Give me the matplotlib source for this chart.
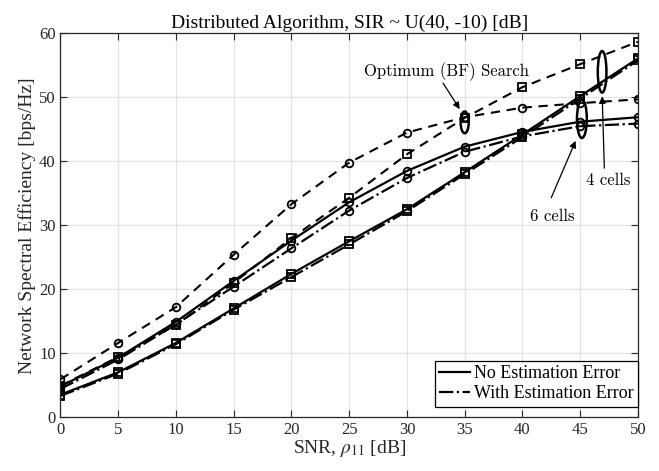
import matplotlib
matplotlib.use('Agg')
import matplotlib.pyplot as plt
from matplotlib.patches import Ellipse
from matplotlib.lines import Line2D

plt.rcParams['font.family'] = ['Liberation Serif', 'DejaVu Serif']
plt.rcParams['mathtext.fontset'] = 'stix'

snr = [0, 5, 10, 15, 20, 25, 30, 35, 40, 45, 50]

# optimum (brute-force) search
opt_6cells = [5.9, 11.6, 17.2, 25.4, 33.3, 39.8, 44.5, 46.9, 48.4, 49.1, 49.7]
opt_4cells = [4.9, 9.4, 14.4, 21.0, 28.0, 34.3, 41.1, 46.8, 51.6, 55.2, 58.7]

# distributed algorithm
noerr_6cells = [4.8, 9.3, 14.9, 21.3, 27.6, 33.6, 38.5, 42.3, 44.6, 46.2, 46.9]
err_6cells = [4.4, 9.0, 14.5, 20.4, 26.4, 32.3, 37.4, 41.5, 43.9, 45.5, 45.9]
noerr_4cells = [3.5, 7.0, 11.6, 17.0, 22.4, 27.5, 32.5, 38.3, 44.2, 50.2, 56.1]
err_4cells = [3.3, 6.8, 11.4, 16.8, 21.9, 27.0, 32.2, 38.0, 43.8, 49.8, 55.8]

fig = plt.figure(figsize=(6.59, 4.71), dpi=100)
ax = fig.add_axes([0.0918, 0.1146, 0.8762, 0.8143])

mk = dict(markersize=5.5, markerfacecolor='none', markeredgecolor='k', markeredgewidth=1.3)
dash = (0, (4.5, 3.2))
ax.plot(snr, opt_6cells, color='k', lw=1.5, ls=dash, marker='o', **mk)
ax.plot(snr, opt_4cells, color='k', lw=1.5, ls=dash, marker='s', **mk)
ax.plot(snr, noerr_6cells, color='k', lw=1.6, ls='-', marker='o', **mk)
ax.plot(snr, err_6cells, color='k', lw=1.6, ls='-.', marker='o', **mk)
ax.plot(snr, noerr_4cells, color='k', lw=1.6, ls='-', marker='s', **mk)
ax.plot(snr, err_4cells, color='k', lw=1.6, ls='-.', marker='s', **mk)

# ellipses marking the groups
for cx, cy, w, h in [(35.0, 46.1, 0.7, 3.4), (45.15, 46.65, 0.85, 6.0), (46.9, 54.0, 0.75, 6.5)]:
    ax.add_patch(Ellipse((cx, cy), w, h, fill=False, ec='k', lw=1.8))

cm = dict(family='cmr10', fontsize=12, ha='center', va='center')
arr = dict(arrowstyle='-|>', color='k', lw=0.9, mutation_scale=10)
ax.text(33.4, 54.0, 'Optimum (BF) Search', **cm)
ax.annotate('', xy=(34.7, 47.8), xytext=(33.0, 52.6), arrowprops=arr)
ax.text(42.6, 31.4, '6 cells', **cm)
ax.annotate('', xy=(44.7, 43.6), xytext=(42.4, 33.9), arrowprops=arr)
ax.text(47.4, 37.1, '4 cells', **cm)
ax.annotate('', xy=(46.9, 50.6), xytext=(47.1, 38.5), arrowprops=arr)

ax.set_xlim(0, 50)
ax.set_ylim(0, 60)
ax.set_xticks(range(0, 51, 5))
ax.set_yticks(range(0, 61, 10))
ax.grid(True, color='#e3e3e3', lw=0.9)
ax.set_axisbelow(True)
ax.tick_params(direction='in', top=True, right=True, labelsize=12, length=5,
               color='#262626', labelcolor='#262626')
for s in ax.spines.values():
    s.set_color('#262626')
    s.set_linewidth(0.9)

ax.set_title('Distributed Algorithm, SIR ~ U(40, -10) [dB]', fontsize=14, pad=4)
ax.set_xlabel(r'SNR, $\rho_{11}$ [dB]', fontsize=14, labelpad=0, color='#262626')
ax.set_ylabel('Network Spectral Efficiency [bps/Hz]', fontsize=14, labelpad=2, color='#262626')

handles = [Line2D([], [], color='k', lw=1.6, ls='-'),
           Line2D([], [], color='k', lw=1.6, ls='-.')]
leg = ax.legend(handles, ['No Estimation Error', 'With Estimation Error'],
                loc='lower right', bbox_to_anchor=(1.0, 0.027), borderaxespad=0,
                fontsize=13, fancybox=False, framealpha=1, edgecolor='k',
                handlelength=1.7, handletextpad=0.2, borderpad=0.25, labelspacing=0.15)
leg.get_frame().set_linewidth(0.9)

fig.savefig('out.png', dpi=100)
